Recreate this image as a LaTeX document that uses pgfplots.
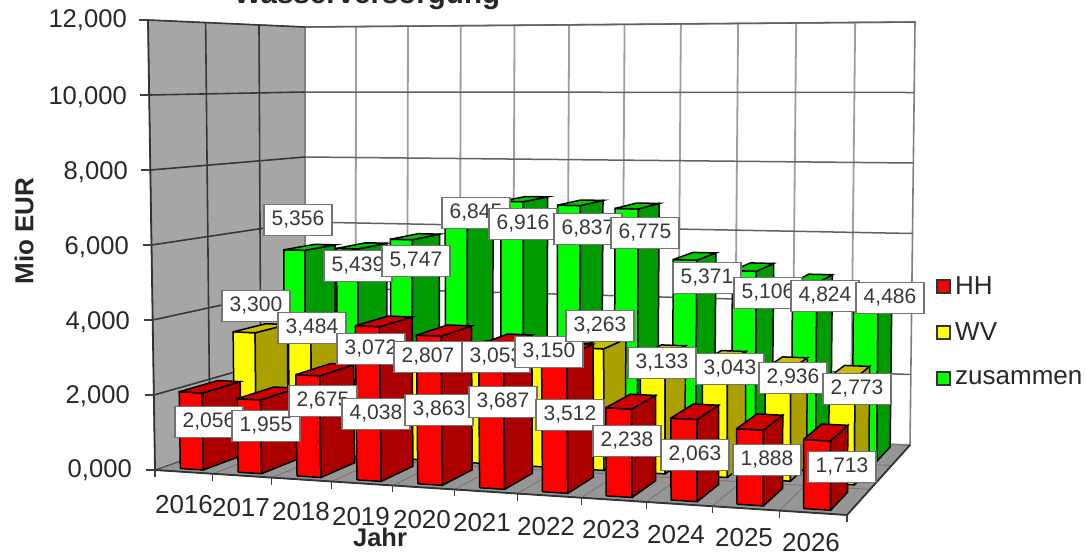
\documentclass[border=0pt]{standalone}
\usepackage{pgfplots}
\pgfplotsset{compat=1.18}
\usepackage{fontspec}
\setmainfont{Liberation Sans}

\definecolor{redF}{RGB}{255,0,0}
\definecolor{redS}{RGB}{170,0,0}
\definecolor{redT}{RGB}{204,0,0}
\definecolor{yelF}{RGB}{255,255,0}
\definecolor{yelS}{RGB}{170,160,0}
\definecolor{yelT}{RGB}{204,190,0}
\definecolor{greF}{RGB}{0,255,0}
\definecolor{greS}{RGB}{0,155,0}
\definecolor{greT}{RGB}{0,204,0}
\definecolor{wallgray}{RGB}{166,166,166}
\definecolor{floorgray}{RGB}{150,150,150}
\definecolor{txt}{RGB}{40,40,40}

% warp of the category axis, t runs 0..1 over the 11 years
\newcommand\warp[2]{\pgfmathsetmacro#1{(#2/11+0.095*(#2/11)*(#2/11))/1.095}}
% projection of (t along years, s in depth, z value) to picture pixels
\newcommand\proj[3]{%
  \pgfmathsetmacro\zf{#3/12000}%
  \pgfmathsetmacro\px{(1-#1)*(155+150*#2)+#1*(847+63*#2)+(-7*(1-#1)*(1-#2)+5*#1*#2)*\zf}%
  \pgfmathsetmacro\py{(1-#1)*(470-53*#2)+#1*(515-70*#2)-((1-#1)*(450-60*#2)+#1*(490-67*#2))*\zf}%
}
\newcommand\startpoly{\def\acc{}}
\newcommand\pt[3]{\proj{#1}{#2}{#3}\edef\acc{\acc(\px,\py)}}
\newcommand\flush[1]{\edef\tmp{\noexpand\addplot[\unexpanded{#1}] coordinates {\acc};}\tmp}

% one depth row of bars: s0, s1, values, front, side, top colour
\newcommand\rowbars[6]{%
  \foreach \v [count=\i from 0] in {#3} {%
    \warp\tl{\i}%
    \pgfmathsetmacro\ir{\i+1}%
    \warp\tr{\ir}%
    \pgfmathsetmacro\ta{\tl+0.31*(\tr-\tl)}%
    \pgfmathsetmacro\tb{\tl+0.71*(\tr-\tl)}%
    \startpoly\pt\ta{#1}{0}\pt\tb{#1}{0}\pt\tb{#1}\v\pt\ta{#1}\v\pt\ta{#1}{0}%
    \flush{fill=#4,draw=black,line width=1.5pt}%
    \startpoly\pt\tb{#1}{0}\pt\tb{#2}{0}\pt\tb{#2}\v\pt\tb{#1}\v\pt\tb{#1}{0}%
    \flush{fill=#5,draw=black,line width=1.5pt}%
    \startpoly\pt\ta{#1}\v\pt\tb{#1}\v\pt\tb{#2}\v\pt\ta{#2}\v\pt\ta{#1}\v%
    \flush{fill=#6,draw=black,line width=1.5pt}%
  }%
}
\newcommand\lab[3]{\node[draw=black!55,line width=1.2pt,fill=white,text=black!78,
  minimum width=68pt,minimum height=31pt,inner sep=0pt,
  font=\fontsize{21}{21}\selectfont] at (axis cs:#1,#2) {#3};}
\newcommand\ytl[3]{\node[anchor=east,text=txt,inner sep=0pt,
  font=\fontsize{25.6}{25.6}\selectfont] at (axis cs:#1,#2) {#3};}
\newcommand\xtl[3]{\node[text=txt,inner sep=0pt,
  font=\fontsize{26}{26}\selectfont] at (axis cs:#1,#2) {#3};}
\newcommand\legitem[3]{%
  \node[draw=black!80,line width=2pt,fill=#2,minimum size=13pt,inner sep=0pt] at (axis cs:943.5,#1) {};
  \node[anchor=west,text=txt,inner sep=0pt,font=\fontsize{26}{26}\selectfont] at (axis cs:955,#1) {#3};}

\begin{document}
\begin{tikzpicture}
\clip (0,0) rectangle (1086pt,555pt);
\begin{axis}[
  at={(0,0)},anchor=south west,
  scale only axis,width=1086pt,height=555pt,
  xmin=0,xmax=1086,ymin=0,ymax=555,y dir=reverse,
  hide axis,clip=false
]
% walls and floor
\startpoly\pt{0}{0}{0}\pt{1}{0}{0}\pt{1}{1}{0}\pt{0}{1}{0}\pt{0}{0}{0}
\flush{fill=floorgray,draw=black!75,line width=1pt}
\startpoly\pt{0}{0}{0}\pt{0}{1}{0}\pt{0}{1}{12000}\pt{0}{0}{12000}\pt{0}{0}{0}
\flush{fill=wallgray,draw=black!70,line width=1pt}
\startpoly\pt{0}{1}{0}\pt{1}{1}{0}\pt{1}{1}{12000}\pt{0}{1}{12000}\pt{0}{1}{0}
\flush{fill=white,draw=black!50,line width=1.6pt}
% grid
\foreach \i in {1,...,10} {
  \warp\tg{\i}
  \startpoly\pt\tg{1}{0}\pt\tg{1}{12000}
  \flush{draw=black!38,line width=1.8pt}
  \startpoly\pt\tg{0}{0}\pt\tg{1}{0}
  \flush{draw=black!55,line width=.8pt}
}
\foreach \s in {0.367,0.707} {
  \startpoly\pt{0}\s{0}\pt{0}\s{12000}
  \flush{draw=black!78,line width=1.6pt}
  \startpoly\pt{0}\s{0}\pt{1}\s{0}
  \flush{draw=black!55,line width=.8pt}
}
\foreach \z in {2000,4000,...,12000} {
  \startpoly\pt{0}{0}\z\pt{0}{1}\z
  \flush{draw=black!78,line width=1.6pt}
  \startpoly\pt{0}{1}\z\pt{1}{1}\z
  \flush{draw=black!62,line width=1.5pt}
}
% bars, back row first
\rowbars{0.755}{0.96}{5356,5439,5747,6845,6916,6837,6775,5371,5106,4824,4486}{greF}{greS}{greT}
\rowbars{0.415}{0.635}{3300,3484,3072,2807,3053,3150,3263,3133,3043,2936,2773}{yelF}{yelS}{yelT}
\rowbars{0.05}{0.31}{2056,1955,2675,4038,3863,3687,3512,2238,2063,1888,1713}{redF}{redS}{redT}
% axis edges and ticks
\startpoly\pt{0}{0}{0}\pt{0}{0}{12000}
\flush{draw=black!80,line width=1.8pt}
\startpoly\pt{0}{0}{0}\pt{1}{0}{0}\pt{1}{1}{0}
\flush{draw=black!80,line width=1.8pt}
\foreach \z in {0,2000,...,12000} {
  \proj{0}{0}{\z}
  \pgfmathsetmacro\qx{\px-9}
  \edef\tmp{\noexpand\addplot[draw=black!75,line width=1.2pt] coordinates {(\qx,\py)(\px,\py)};}\tmp
}
\foreach \i in {0,...,11} {
  \warp\tg{\i}
  \proj{\tg}{0}{0}
  \pgfmathsetmacro\qy{\py+7}
  \edef\tmp{\noexpand\addplot[draw=black!75,line width=1.2pt] coordinates {(\px,\py)(\px,\qy)};}\tmp
}
% data labels
\lab{209}{422}{2,056}\lab{266}{426}{1,955}\lab{323}{401}{2,675}\lab{376}{414}{4,038}
\lab{439}{410}{3,863}\lab{503}{402}{3,687}\lab{570}{415}{3,512}\lab{627}{441}{2,238}
\lab{695}{455}{2,063}\lab{767}{460}{1,888}\lab{842}{467}{1,713}
\lab{256}{306}{3,300}\lab{312}{328}{3,484}\lab{371}{349}{3,072}\lab{428}{357}{2,807}
\lab{496}{357}{3,053}\lab{549}{352}{3,150}\lab{600}{326}{3,263}\lab{662}{363}{3,133}
\lab{730}{369}{3,043}\lab{793}{378}{2,936}\lab{857}{389}{2,773}
\lab{298}{220}{5,356}\lab{358}{266}{5,439}\lab{416}{261}{5,747}\lab{476}{213}{6,845}
\lab{523}{224}{6,916}\lab{588}{229}{6,837}\lab{645}{233}{6,775}\lab{707}{278}{5,371}
\lab{768}{293}{5,106}\lab{825}{296}{4,824}\lab{890}{298}{4,486}
% tick labels
\ytl{127}{20}{12,000}\ytl{127}{97}{10,000}\ytl{128}{172}{8,000}\ytl{129}{247}{6,000}
\ytl{130}{322}{4,000}\ytl{130}{396}{2,000}\ytl{132}{470}{0,000}
\xtl{184}{505}{2016}\xtl{241}{508}{2017}\xtl{301}{512}{2018}\xtl{361}{517}{2019}
\xtl{422}{520}{2020}\xtl{482}{523}{2021}\xtl{546}{527}{2022}\xtl{611}{530}{2023}
\xtl{676}{535}{2024}\xtl{744}{538}{2025}\xtl{811}{543}{2026}
% titles
\node[anchor=base,text=black!85,inner sep=0pt,font=\bfseries\fontsize{29.5}{29.5}\selectfont] at (axis cs:367,3) {Wasserversorgung};
\node[rotate=90,text=black!85,inner sep=0pt,font=\bfseries\fontsize{26}{26}\selectfont] at (axis cs:24,231) {Mio EUR};
\node[text=black!85,inner sep=0pt,font=\bfseries\fontsize{25.5}{25.5}\selectfont] at (axis cs:380,537) {Jahr};
% legend
\legitem{286}{redF}{HH}
\legitem{332}{yelF}{WV}
\legitem{378}{greF}{zusammen}
\end{axis}
\end{tikzpicture}
\end{document}
